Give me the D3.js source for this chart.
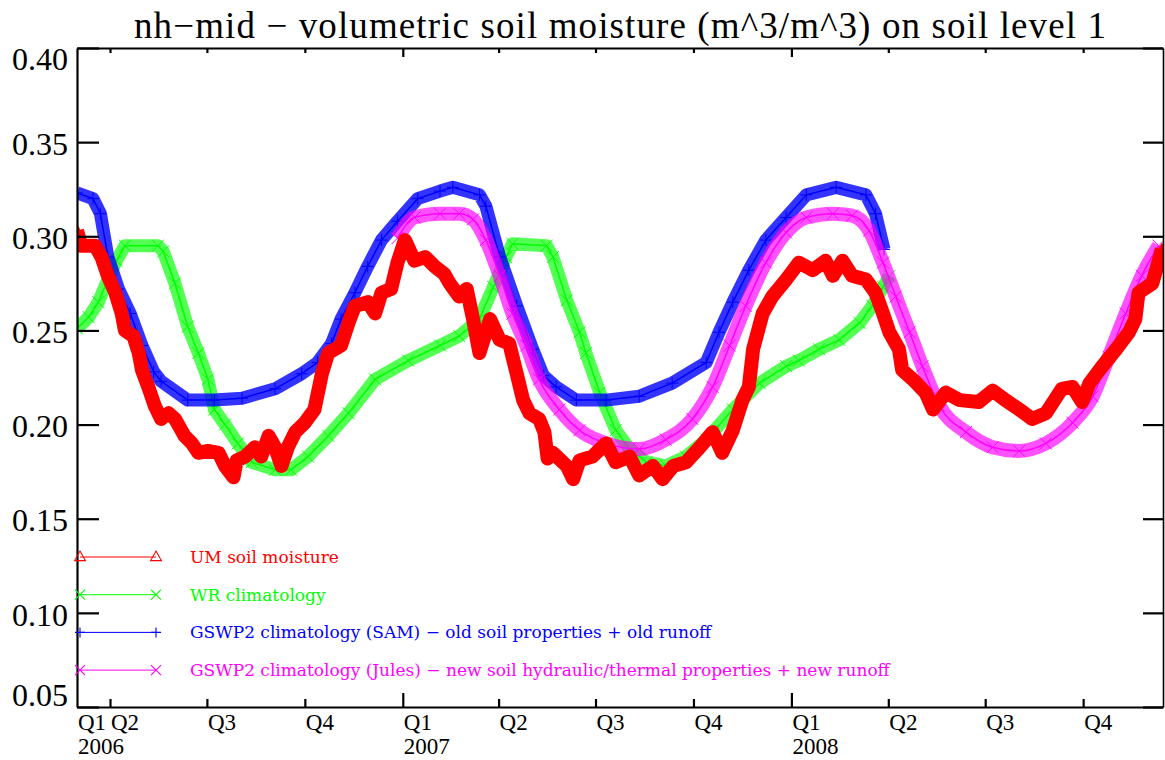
<!DOCTYPE html>
<html>
<head>
<meta charset="utf-8">
<script src="https://cdn.jsdelivr.net/npm/d3@7"></script>
<style>
  body { margin: 0; background: #fff; }
  svg { display: block; font-family: "Liberation Serif", "Times New Roman", serif; }
</style>
</head>
<body>
<svg id="chart" width="1165" height="760"></svg>
<script>
// ---- data ----------------------------------------------------------------
// Daily output, day index counted from the first day shown on the time axis.
const startDate = "2006-03-01";
const endDate = "2008-12-15";

const titleText = "nh\u2212mid \u2212 volumetric soil moisture (m^3/m^3) on soil level 1";

const yTicks = [0.05, 0.10, 0.15, 0.20, 0.25, 0.30, 0.35, 0.40];

const quarterTicks = ["2006-04-01", "2006-07-01", "2006-10-01", "2007-01-01", "2007-04-01",
  "2007-07-01", "2007-10-01", "2008-01-01", "2008-04-01", "2008-07-01", "2008-10-01"];
const quarterLabels = ["Q2", "Q3", "Q4", "Q1", "Q2", "Q3", "Q4", "Q1", "Q2", "Q3", "Q4"];
const firstQuarterLabel = "Q1";
const yearLabels = ["2006", "2007", "2008"];

// UM soil moisture
const umDays = [0, 4, 17, 23, 29, 36, 42, 45, 53, 58,
  61, 67, 73, 79, 86, 92, 101, 108, 114, 123,
  133, 139, 147, 150, 158, 167, 173, 180, 186, 192,
  198, 205, 214, 223, 230, 236, 248, 255, 261, 273,
  280, 286, 295, 301, 308, 317, 327, 336, 345, 350,
  359, 366, 372, 378, 388, 397, 406, 413, 419, 425,
  434, 439, 442, 447, 460, 466, 472, 484, 497, 506,
  519, 528, 541, 550, 560, 572, 585, 597, 606, 616,
  625, 631, 635, 644, 653, 666, 678, 691, 703, 710,
  719, 728, 741, 750, 757, 763, 772, 775, 785, 797,
  804, 816, 829, 847, 860, 872, 885, 897, 910, 925,
  935, 944, 951, 963, 976, 988, 994, 997, 1010, 1019];
const umValues = [0.303, 0.295, 0.295, 0.289, 0.279, 0.270, 0.259, 0.250, 0.247, 0.238,
  0.229, 0.220, 0.210, 0.203, 0.206, 0.203, 0.194, 0.190, 0.185, 0.186,
  0.185, 0.178, 0.172, 0.181, 0.183, 0.188, 0.183, 0.194, 0.188, 0.178,
  0.188, 0.196, 0.201, 0.208, 0.227, 0.238, 0.242, 0.254, 0.263, 0.265,
  0.259, 0.270, 0.272, 0.286, 0.298, 0.287, 0.289, 0.284, 0.280, 0.275,
  0.268, 0.272, 0.256, 0.238, 0.256, 0.245, 0.243, 0.227, 0.213, 0.206,
  0.203, 0.196, 0.182, 0.185, 0.178, 0.171, 0.181, 0.183, 0.190, 0.180,
  0.183, 0.173, 0.178, 0.171, 0.178, 0.180, 0.188, 0.196, 0.185, 0.197,
  0.213, 0.220, 0.240, 0.259, 0.268, 0.277, 0.286, 0.282, 0.287, 0.279,
  0.287, 0.279, 0.277, 0.270, 0.259, 0.249, 0.240, 0.229, 0.224, 0.217,
  0.208, 0.217, 0.213, 0.212, 0.218, 0.213, 0.208, 0.203, 0.206, 0.219,
  0.220, 0.212, 0.222, 0.231, 0.240, 0.249, 0.256, 0.270, 0.275, 0.293];

// WR climatology
const wrDays = [0, 11, 20, 29, 37, 45, 76, 81, 92, 104,
  114, 123, 129, 139, 151, 164, 186, 201, 217, 236,
  255, 280, 311, 341, 359, 378, 391, 403, 409, 441,
  447, 460, 472, 478, 491, 506, 519, 535, 553, 572,
  591, 616, 641, 666, 678, 697, 716, 735, 747, 757, 763];
const wrValues = [0.251, 0.257, 0.265, 0.277, 0.287, 0.295, 0.295, 0.292, 0.275, 0.252,
  0.238, 0.224, 0.208, 0.200, 0.190, 0.180, 0.176, 0.176, 0.183, 0.194,
  0.206, 0.224, 0.234, 0.242, 0.247, 0.256, 0.273, 0.289, 0.296, 0.295,
  0.289, 0.266, 0.249, 0.238, 0.217, 0.197, 0.187, 0.180, 0.178, 0.183,
  0.192, 0.208, 0.222, 0.231, 0.234, 0.240, 0.245, 0.254, 0.263, 0.273, 0.279];

// GSWP2 climatology (SAM)
const samDays = [0, 15, 22, 29, 39, 50, 61, 72, 79, 104,
  129, 155, 186, 211, 226, 239, 248, 261, 273, 286,
  301, 320, 341, 353, 378, 384, 397, 413, 428, 438,
  450, 469, 497, 528, 559, 591, 603, 616, 631, 647,
  666, 685, 713, 741, 750, 758];
const samValues = [0.323, 0.320, 0.312, 0.289, 0.272, 0.259, 0.242, 0.228, 0.223, 0.213,
  0.213, 0.214, 0.219, 0.227, 0.233, 0.243, 0.256, 0.270, 0.284, 0.298,
  0.308, 0.320, 0.324, 0.326, 0.322, 0.316, 0.289, 0.263, 0.240, 0.226,
  0.220, 0.213, 0.213, 0.215, 0.222, 0.233, 0.249, 0.265, 0.282, 0.298,
  0.310, 0.322, 0.326, 0.322, 0.312, 0.293];

// GSWP2 climatology (Jules)
const julesDays = [301, 317, 341, 359, 372, 384, 397, 409, 422, 434,
  453, 472, 497, 528, 553, 578, 597, 613, 628, 647,
  666, 685, 710, 728, 744, 757, 769, 782, 794, 810,
  835, 860, 885, 910, 935, 954, 969, 985, 1000, 1016];
const julesValues = [0.299, 0.310, 0.312, 0.312, 0.309, 0.298, 0.279, 0.259, 0.242, 0.224,
  0.208, 0.197, 0.190, 0.187, 0.192, 0.203, 0.220, 0.242, 0.263, 0.286,
  0.302, 0.310, 0.312, 0.311, 0.303, 0.286, 0.268, 0.249, 0.231, 0.210,
  0.196, 0.188, 0.186, 0.190, 0.201, 0.215, 0.236, 0.259, 0.279, 0.295];

const seriesNames = [
  "UM soil moisture",
  "WR climatology",
  "GSWP2 climatology (SAM) \u2212 old soil properties + old runoff",
  "GSWP2 climatology (Jules) \u2212 new soil hydraulic/thermal properties + new runoff"
];

// ---- layout ----------------------------------------------------------------
const plot = { left: 77, right: 1163, top: 48, bottom: 707 };
const svg = d3.select("#chart");

const parseDay = d3.utcParse("%Y-%m-%d");
const t0 = parseDay(startDate);
const dayToDate = d => d3.utcDay.offset(t0, d);

const x = d3.scaleUtc().domain([t0, parseDay(endDate)]).range([plot.left, plot.right]);
const y = d3.scaleLinear().domain([0.05, 0.40]).range([plot.bottom, plot.top]);

svg.append("defs").append("clipPath").attr("id", "plot-clip")
  .append("rect")
  .attr("x", plot.left).attr("y", plot.top)
  .attr("width", plot.right - plot.left).attr("height", plot.bottom - plot.top);

// marker glyphs in the style of the plotting package
const glyphs = {
  triangle: s => `M0,${-s}L${s * 0.9},${s * 0.6}L${-s * 0.9},${s * 0.6}Z`,
  cross: s => `M${-s},${-s}L${s},${s}M${-s},${s}L${s},${-s}`,
  plus: s => `M${-s},0H${s}M0,${-s}V${s}`
};

const series = [
  { name: seriesNames[1], days: wrDays, values: wrValues, color: "#00ff00", glyph: "cross",
    band: 13, bandOpacity: 0.68, curve: d3.curveLinear },
  { name: seriesNames[2], days: samDays, values: samValues, color: "#0000ff", glyph: "plus",
    band: 13, bandOpacity: 0.8, curve: d3.curveLinear },
  { name: seriesNames[3], days: julesDays, values: julesValues, color: "#ff00ff", glyph: "cross",
    band: 14, bandOpacity: 0.68, curve: d3.curveMonotoneX },
  { name: seriesNames[0], days: umDays, values: umValues, color: "#ff0000", glyph: "triangle",
    band: 14, bandOpacity: 1, curve: d3.curveLinear }
];

const marks = svg.append("g").attr("clip-path", "url(#plot-clip)");

series.forEach(s => {
  const pts = s.days.map((d, i) => [x(dayToDate(d)), y(s.values[i])]);
  const line = d3.line().curve(s.curve);
  const g = marks.append("g");
  g.append("path")
    .attr("d", line(pts))
    .attr("fill", "none")
    .attr("stroke", s.color)
    .attr("stroke-opacity", s.bandOpacity)
    .attr("stroke-width", s.band)
    .attr("stroke-linejoin", "round")
    .attr("stroke-linecap", "butt");
  g.append("path")
    .attr("d", line(pts))
    .attr("fill", "none")
    .attr("stroke", s.color)
    .attr("stroke-width", 1.5);
  g.selectAll("path.sym")
    .data(pts)
    .join("path")
    .attr("class", "sym")
    .attr("transform", p => `translate(${p[0]},${p[1]})`)
    .attr("d", glyphs[s.glyph](6))
    .attr("fill", s.glyph === "triangle" ? s.color : "none")
    .attr("stroke", s.color)
    .attr("stroke-width", 1);
});

// ---- axes -------------------------------------------------------------------
const quarterDates = quarterTicks.map(parseDay);
const isYearStart = d => d.getUTCMonth() === 0;

const axisStyle = g => {
  g.attr("font-family", null);
  g.select(".domain").attr("stroke", "#000").attr("stroke-width", 2.2);
  g.selectAll(".tick line").attr("stroke", "#000").attr("stroke-width", 2.2);
};

// left
const yLeft = svg.append("g")
  .attr("transform", `translate(${plot.left},0)`)
  .call(d3.axisLeft(y).tickValues(yTicks).tickSizeInner(-22).tickSizeOuter(0)
    .tickPadding(9).tickFormat(d3.format(".2f")))
  .call(axisStyle);
yLeft.selectAll(".tick text")
  .attr("fill", "#000")
  .style("font-size", "32px")
  .attr("dy", d => d === 0.40 ? "0.68em" : d === 0.05 ? "-0.06em" : "0.38em");

// right
svg.append("g")
  .attr("transform", `translate(${plot.right},0)`)
  .call(d3.axisRight(y).tickValues(yTicks).tickSizeInner(-20).tickSizeOuter(0).tickFormat(""))
  .call(axisStyle)
  .call(g => g.select(".domain").attr("stroke-width", 1.6));

// top
svg.append("g")
  .attr("transform", `translate(0,${plot.top})`)
  .call(d3.axisTop(x).tickValues(quarterDates).tickSizeOuter(0).tickFormat(""))
  .call(axisStyle)
  .call(g => g.selectAll(".tick line").attr("y2", d => isYearStart(d) ? 9 : 5));

// bottom
const xBottom = svg.append("g")
  .attr("transform", `translate(0,${plot.bottom})`)
  .call(d3.axisBottom(x).tickValues(quarterDates).tickSizeOuter(0).tickFormat(""))
  .call(axisStyle);
xBottom.selectAll(".tick line").attr("y2", d => isYearStart(d) ? -14 : -8);

const quarterBaseline = plot.bottom + 23;
const yearBaseline = plot.bottom + 47;

const xLabels = svg.append("g")
  .style("font-size", "23px")
  .attr("fill", "#000");

xLabels.append("text")
  .attr("x", plot.left + 1).attr("y", quarterBaseline)
  .text(firstQuarterLabel);
xLabels.append("text")
  .attr("x", plot.left + 1).attr("y", yearBaseline)
  .text(yearLabels[0]);

quarterDates.forEach((d, i) => {
  xLabels.append("text")
    .attr("x", x(d) + 1).attr("y", quarterBaseline)
    .text(quarterLabels[i]);
});
quarterDates.filter(isYearStart).forEach((d, i) => {
  xLabels.append("text")
    .attr("x", x(d) + 1).attr("y", yearBaseline)
    .text(yearLabels[i + 1]);
});

// ---- title -----------------------------------------------------------------
svg.append("text")
  .attr("x", 620).attr("y", 38)
  .attr("text-anchor", "middle")
  .style("font-size", "37px")
  .attr("textLength", 972)
  .attr("lengthAdjust", "spacing")
  .attr("fill", "#000")
  .text(titleText);

// ---- legend ----------------------------------------------------------------
const legendOrder = [3, 0, 1, 2]; // UM, WR, SAM, Jules
const legend = svg.append("g")
  .style("font-family", "'DejaVu Serif', serif")
  .style("font-size", "17px");
legendOrder.forEach((si, row) => {
  const s = series[si];
  const ly = 557 + row * 37.7;
  const x1 = plot.left + 3, x2 = 156;
  legend.append("line")
    .attr("x1", x1).attr("x2", x2).attr("y1", ly).attr("y2", ly)
    .attr("stroke", s.color).attr("stroke-width", 1);
  [x1, x2].forEach(px => {
    legend.append("path")
      .attr("transform", `translate(${px},${ly})`)
      .attr("d", glyphs[s.glyph](s.glyph === "triangle" ? 6 : 5))
      .attr("fill", "none")
      .attr("stroke", s.color)
      .attr("stroke-width", 1.1);
  });
  legend.append("text")
    .attr("x", 190).attr("y", ly + 6)
    .attr("fill", s.color)
    .text(s.name);
});
</script>
</body>
</html>
